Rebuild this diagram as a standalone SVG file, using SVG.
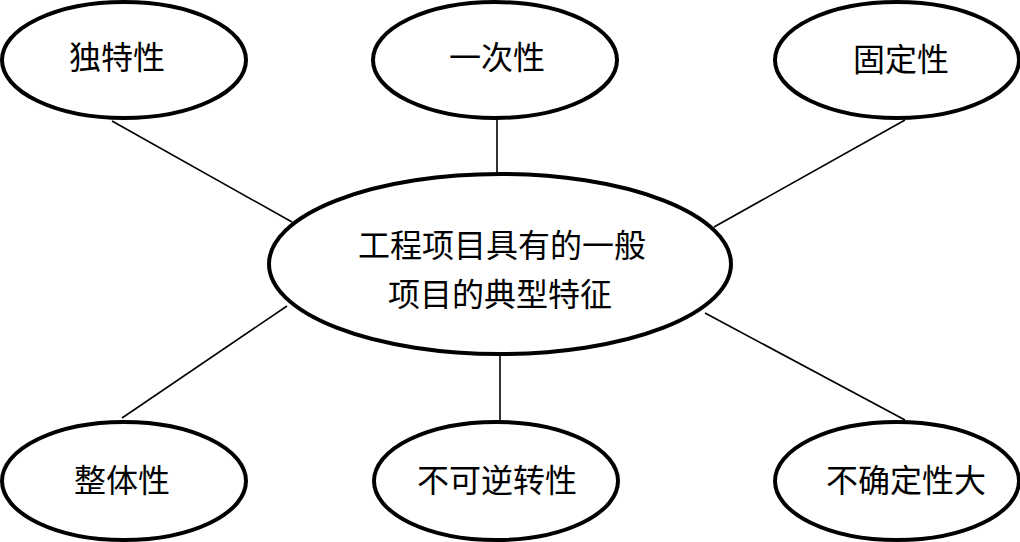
<svg xmlns="http://www.w3.org/2000/svg" width="1020" height="542" viewBox="0 0 1020 542">
<style>
.node ellipse{fill:#fff;stroke:#000;stroke-width:4}
.node text{font-family:"Liberation Serif","Noto Sans CJK SC",serif;font-size:32px;fill:#000;text-anchor:middle;dominant-baseline:central}
#connectors line{stroke:#000;stroke-width:1.6}
</style>
<rect width="1020" height="542" fill="#fff"/>
<g id="connectors">
<line x1="112" y1="121" x2="292" y2="222"/>
<line x1="497" y1="119" x2="497" y2="175"/>
<line x1="905" y1="120" x2="714" y2="227"/>
<line x1="122" y1="418" x2="287" y2="306"/>
<line x1="500" y1="353" x2="500" y2="421"/>
<line x1="705" y1="313" x2="905" y2="420"/>
</g>
<g id="center" class="node">
<ellipse cx="500" cy="264" rx="231" ry="90"/>
<text x="502" y="246">工程项目具有的一般</text>
<text x="500" y="295">项目的典型特征</text>
</g>
<g id="n1" class="node"><ellipse cx="124" cy="60" rx="122" ry="58"/><text x="117" y="58">独特性</text></g>
<g id="n2" class="node"><ellipse cx="495" cy="60" rx="122" ry="58"/><text x="497" y="58">一次性</text></g>
<g id="n3" class="node"><ellipse cx="897" cy="60" rx="122" ry="58"/><text x="901" y="60">固定性</text></g>
<g id="n4" class="node"><ellipse cx="124" cy="481" rx="122" ry="59"/><text x="122" y="481">整体性</text></g>
<g id="n5" class="node"><ellipse cx="496" cy="481" rx="122" ry="59"/><text x="497" y="481">不可逆转性</text></g>
<g id="n6" class="node"><ellipse cx="897" cy="481" rx="122" ry="59"/><text x="906" y="481">不确定性大</text></g>
</svg>
